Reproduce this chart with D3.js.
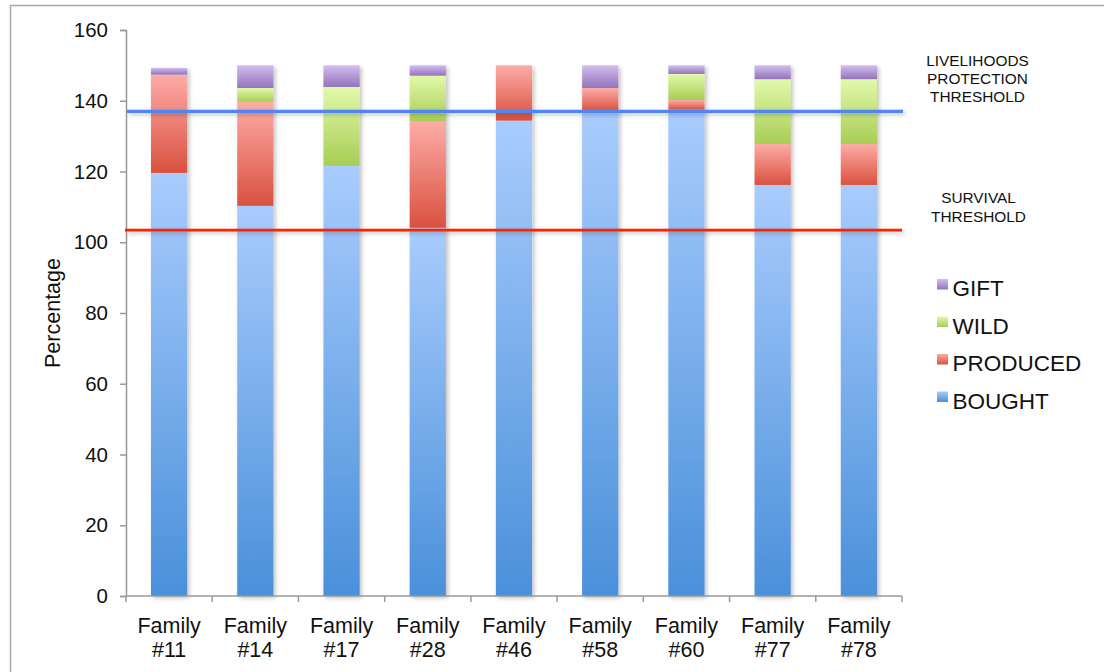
<!DOCTYPE html>
<html>
<head>
<meta charset="utf-8">
<script src="https://cdn.jsdelivr.net/npm/d3@7"></script>
<style>
  html, body { margin: 0; padding: 0; background: #fff; }
  svg { display: block; font-family: "Liberation Sans", Arial, Helvetica, sans-serif; }
</style>
</head>
<body>
<svg id="chart" width="1104" height="672"></svg>
<script>
// Food sources per family, stacked from the bottom up
const families = ["Family #11", "Family #14", "Family #17", "Family #28", "Family #46",
                  "Family #58", "Family #60", "Family #77", "Family #78"];
const bought   = [119.6, 110.3, 121.6, 104.1, 134.4, 137.0, 137.5, 116.2, 116.2];
const produced = [ 27.8,  29.4,   0.0,  30.0,  15.6,   6.6,   2.7,  11.6,  11.6];
const wild     = [  0.0,   3.9,  22.3,  13.0,   0.0,   0.0,   7.4,  18.3,  18.3];
const gift     = [  1.9,   6.4,   6.1,   2.9,   0.0,   6.4,   2.4,   3.9,   3.9];

const seriesNames = ["BOUGHT", "PRODUCED", "WILD", "GIFT"];
const yTicks = [0, 20, 40, 60, 80, 100, 120, 140, 160];

const livelihoodsThreshold = 137.0;
const survivalThreshold = 103.4;

// Gradient stops (top colour, bottom colour) for each source
const palette = {
  BOUGHT:   ["#a9ccfd", "#4a90da"],
  PRODUCED: ["#fdaca7", "#d9513f"],
  WILD:     ["#e2f9ab", "#a8cd55"],
  GIFT:     ["#d3bdef", "#9274bb"]
};

const rows = families.map((f, i) => ({
  family: f, BOUGHT: bought[i], PRODUCED: produced[i], WILD: wild[i], GIFT: gift[i]
}));

const svg = d3.select("#chart");
const margin = { left: 126, right: 202, top: 30, bottom: 76 };
const W = 1104, H = 672;

const x = d3.scaleBand().domain(families).range([margin.left, W - margin.right])
  .paddingInner(0.58).paddingOuter(0.29);
const y = d3.scaleLinear().domain([0, 160]).range([H - margin.bottom, margin.top]);

const defs = svg.append("defs");
seriesNames.forEach(s => {
  const g = defs.append("linearGradient").attr("id", "grad-" + s)
    .attr("x1", 0).attr("y1", 0).attr("x2", 0).attr("y2", 1);
  g.append("stop").attr("offset", "0%").attr("stop-color", palette[s][0]);
  g.append("stop").attr("offset", "100%").attr("stop-color", palette[s][1]);
});
const shadow = defs.append("filter").attr("id", "shadow")
  .attr("x", "-20%").attr("y", "-20%").attr("width", "160%").attr("height", "160%");
shadow.append("feDropShadow").attr("dx", 2).attr("dy", 2).attr("stdDeviation", 2)
  .attr("flood-color", "#000").attr("flood-opacity", 0.25);

// Outer frame
svg.append("rect").attr("x", 10.5).attr("y", 5.5).attr("width", 1200).attr("height", 800)
  .attr("fill", "none").attr("stroke", "#aaa").attr("stroke-width", 1.5);

// Stacked bars
const stack = d3.stack().keys(seriesNames)(rows);
const barsG = svg.append("g").attr("filter", "url(#shadow)");
stack.forEach(layer => {
  barsG.append("g").selectAll("rect")
    .data(layer.filter(d => d[1] - d[0] > 0))
    .join("rect")
    .attr("x", d => x(d.data.family))
    .attr("width", x.bandwidth())
    .attr("y", d => y(d[1]))
    .attr("height", d => y(d[0]) - y(d[1]))
    .attr("fill", "url(#grad-" + layer.key + ")");
});

// Axes
const yAxis = svg.append("g").attr("transform", `translate(${margin.left},0)`)
  .call(d3.axisLeft(y).tickValues(yTicks).tickSize(6).tickPadding(12));
yAxis.select(".domain").attr("stroke", "#999").attr("stroke-width", 1.5);
yAxis.selectAll(".tick line").attr("stroke", "#999").attr("stroke-width", 1.5);
yAxis.selectAll(".tick text").attr("font-size", 20.5).attr("fill", "#111")
  .attr("font-family", "Liberation Sans, Arial, sans-serif");

const xAxisG = svg.append("g").attr("transform", `translate(0,${y(0)})`);
xAxisG.append("line").attr("x1", margin.left).attr("x2", W - margin.right)
  .attr("stroke", "#999").attr("stroke-width", 1.5);
// category boundaries carry the tick marks
const bounds = families.map((f, i) => margin.left + i * x.step());
bounds.push(W - margin.right);
xAxisG.selectAll("line.tk").data(bounds).join("line").attr("class", "tk")
  .attr("x1", d => d).attr("x2", d => d).attr("y1", 0).attr("y2", 6)
  .attr("stroke", "#999").attr("stroke-width", 1.5);
const xl = xAxisG.selectAll("text.lbl").data(families).join("text").attr("class", "lbl")
  .attr("text-anchor", "middle").attr("font-size", 21.5).attr("fill", "#111")
  .attr("x", d => x(d) + x.bandwidth() / 2);
xl.append("tspan").attr("x", d => x(d) + x.bandwidth() / 2).attr("y", 37).text(d => d.split(" ")[0]);
xl.append("tspan").attr("x", d => x(d) + x.bandwidth() / 2).attr("y", 61).text(d => d.split(" ")[1]);

svg.append("text").attr("transform", `translate(60,${(y(0) + y(160)) / 2}) rotate(-90)`)
  .attr("text-anchor", "middle").attr("font-size", 21.5).attr("fill", "#111").text("Percentage");

// Threshold lines
const thresholds = [
  { v: livelihoodsThreshold, color: "#4f86f7", w: 3.2, x1: 127, x2: 903 },
  { v: survivalThreshold, color: "#ff2200", w: 2.8, x1: 125, x2: 902 }
];
svg.append("g").attr("filter", "url(#shadow)").selectAll("line").data(thresholds).join("line")
  .attr("x1", d => d.x1).attr("x2", d => d.x2)
  .attr("y1", d => y(d.v)).attr("y2", d => y(d.v))
  .attr("stroke", d => d.color).attr("stroke-width", d => d.w);

// Threshold captions
const captions = [
  { lines: ["LIVELIHOODS", "PROTECTION", "THRESHOLD"], cx: 977.5, y0: 66, dy: 18 },
  { lines: ["SURVIVAL", "THRESHOLD"], cx: 978.5, y0: 203, dy: 19 }
];
captions.forEach(c => {
  svg.append("g").selectAll("text").data(c.lines).join("text")
    .attr("x", c.cx).attr("y", (d, i) => c.y0 + i * c.dy)
    .attr("text-anchor", "middle").attr("font-size", 15.4).attr("fill", "#111").text(d => d);
});

// Legend (top entry is the top of the stack)
const legendOrder = seriesNames.slice().reverse();
const lg = svg.append("g").selectAll("g").data(legendOrder).join("g")
  .attr("transform", (d, i) => `translate(937,${296 + i * 37.5})`);
lg.append("rect").attr("x", 0).attr("y", -17).attr("width", 11).attr("height", 10.5)
  .attr("fill", d => `url(#grad-${d})`);
lg.append("text").attr("x", 15.5).attr("y", 0).attr("font-size", 22.5).attr("fill", "#111").text(d => d);
</script>
</body>
</html>
